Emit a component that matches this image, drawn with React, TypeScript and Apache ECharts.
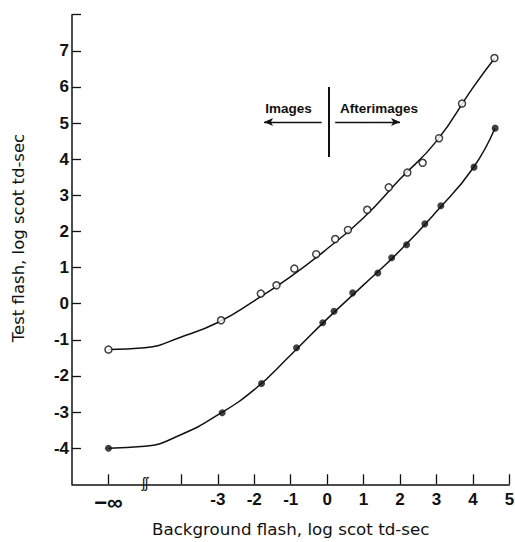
import React, { useEffect, useRef } from "react";
import * as echarts from "echarts";

// Open circles (upper curve)
const openX = [-6, -2.91, -1.82, -1.39, -0.9, -0.3, 0.22, 0.57, 1.1, 1.69, 2.2, 2.62, 3.07, 3.7, 4.59];
const openY = [-1.27, -0.46, 0.28, 0.51, 0.97, 1.37, 1.79, 2.04, 2.6, 3.22, 3.63, 3.9, 4.58, 5.54, 6.8];
// Filled circles (lower curve)
const filledX = [-6, -2.88, -1.8, -0.84, -0.12, 0.19, 0.7, 1.39, 1.77, 2.18, 2.68, 3.12, 4.03, 4.61];
const filledY = [-4.0, -3.02, -2.21, -1.22, -0.53, -0.21, 0.3, 0.85, 1.27, 1.63, 2.21, 2.71, 3.78, 4.86];
// Fitted curves
const upperCurveX = [-6, -5, -4, -3, -2, -1, 0, 1, 2, 3, 4, 4.6];
const upperCurveY = [-1.27, -1.22, -0.92, -0.52, 0.08, 0.75, 1.52, 2.38, 3.45, 4.5, 5.98, 6.8];
const lowerCurveX = [-6, -5, -4, -3, -2, -1, 0, 1, 2, 3, 4, 4.6];
const lowerCurveY = [-4.0, -3.95, -3.62, -3.08, -2.38, -1.42, -0.42, 0.52, 1.47, 2.55, 3.75, 4.85];
// Axis ticks
const xTickValues = [-6, -4, -3, -2, -1, 0, 1, 2, 3, 4, 5];
const xLabelValues = [-6, -3, -2, -1, 0, 1, 2, 3, 4, 5];
const yTickValues = [-4, -3, -2, -1, 0, 1, 2, 3, 4, 5, 6, 7, 8];
const yLabelValues = [-4, -3, -2, -1, 0, 1, 2, 3, 4, 5, 6, 7];

const zip = (xs: number[], ys: number[]) => xs.map((x, i) => [x, ys[i]]);

const FONT = "Liberation Sans";
const TITLE_FONT = "DejaVu Sans";

export default function App() {
  const ref = useRef<HTMLDivElement>(null);
  useEffect(() => {
    if (!ref.current) return;
    const chart = echarts.init(ref.current, null, { renderer: "svg" });
    chart.setOption({
      animation: false,
      backgroundColor: "#ffffff",
      grid: { left: 72, right: 5.6, top: 14.7, bottom: 57.7, containLabel: false, outerBoundsMode: "none" },
      xAxis: {
        type: "value",
        min: -7,
        max: 5,
        interval: 1,
        axisLine: { show: true, onZero: false, lineStyle: { color: "#111", width: 1.5 } },
        axisTick: { show: true, inside: true, length: 10, customValues: xTickValues, lineStyle: { color: "#111", width: 1.3 } },
        axisLabel: {
          customValues: xLabelValues,
          margin: 7,
          color: "#111",
          fontFamily: FONT,
          fontWeight: "bold",
          fontSize: 17,
          formatter: (v: number) => (v === -6 ? "{inf|−∞}" : String(v)),
          rich: { inf: { fontSize: 22, fontFamily: FONT, fontWeight: "bold", color: "#111" } },
        },
        splitLine: { show: false },
        name: "Background flash, log scot td-sec",
        nameLocation: "middle",
        nameGap: 36,
        nameTextStyle: { color: "#111", fontFamily: TITLE_FONT, fontSize: 16.7 },
      },
      yAxis: {
        type: "value",
        min: -5,
        max: 8,
        interval: 1,
        axisLine: { show: true, onZero: false, lineStyle: { color: "#111", width: 1.5 } },
        axisTick: { show: true, inside: true, length: 9, customValues: yTickValues, lineStyle: { color: "#111", width: 1.3 } },
        axisLabel: {
          customValues: yLabelValues,
          margin: 3,
          color: "#111",
          fontFamily: FONT,
          fontWeight: "bold",
          fontSize: 17,
        },
        splitLine: { show: false },
      },
      graphic: [
        {
          type: "text",
          x: 18,
          y: 238,
          rotation: Math.PI / 2,
          style: { text: "Test flash, log scot td-sec", fontFamily: TITLE_FONT, fontSize: 16.5, fill: "#111", align: "center", verticalAlign: "middle" },
        },
        {
          type: "text",
          x: 145,
          y: 483,
          style: { text: "ʃʃ", fontFamily: FONT, fontSize: 14, fill: "#111", align: "center", verticalAlign: "middle", backgroundColor: "#fff" },
        },
        {
          type: "text",
          x: 288.5,
          y: 108,
          style: { text: "Images", fontFamily: FONT, fontWeight: "bold", fontSize: 13.5, fill: "#111", align: "center", verticalAlign: "middle" },
        },
        {
          type: "text",
          x: 379,
          y: 108,
          style: { text: "Afterimages", fontFamily: FONT, fontWeight: "bold", fontSize: 13.5, fill: "#111", align: "center", verticalAlign: "middle" },
        },
      ],
      series: [
        {
          type: "line",
          data: zip(upperCurveX, upperCurveY),
          smooth: 0.5,
          showSymbol: false,
          symbol: "none",
          lineStyle: { color: "#111", width: 1.5 },
          z: 2,
          markLine: {
            silent: true,
            symbol: ["none", "none"],
            label: { show: false },
            lineStyle: { color: "#111", width: 2, type: "solid" },
            data: [[{ coord: [0.05, 6.0] }, { coord: [0.05, 4.06] }]],
          },
        },
        {
          type: "line",
          data: zip(lowerCurveX, lowerCurveY),
          smooth: 0.5,
          showSymbol: false,
          symbol: "none",
          lineStyle: { color: "#111", width: 1.5 },
          z: 2,
          markLine: {
            silent: true,
            symbol: ["none", "arrow"],
            symbolSize: [6, 9],
            label: { show: false },
            lineStyle: { color: "#111", width: 1.3, type: "solid" },
            data: [
              [{ coord: [-0.15, 5.03] }, { coord: [-1.73, 5.03] }],
              [{ coord: [0.22, 5.03] }, { coord: [2.0, 5.03] }],
            ],
          },
        },
        {
          type: "scatter",
          data: zip(openX, openY),
          symbol: "circle",
          symbolSize: 7,
          itemStyle: { color: "#fff", borderColor: "#111", borderWidth: 1.5 },
          z: 3,
        },
        {
          type: "scatter",
          data: zip(filledX, filledY),
          symbol: "circle",
          symbolSize: 7,
          itemStyle: { color: "#111", borderColor: "#111", borderWidth: 0 },
          z: 3,
        },
      ],
    });
    return () => chart.dispose();
  }, []);
  return <div ref={ref} style={{ position: "fixed", left: 0, top: 0, width: 515, height: 542 }} />;
}
